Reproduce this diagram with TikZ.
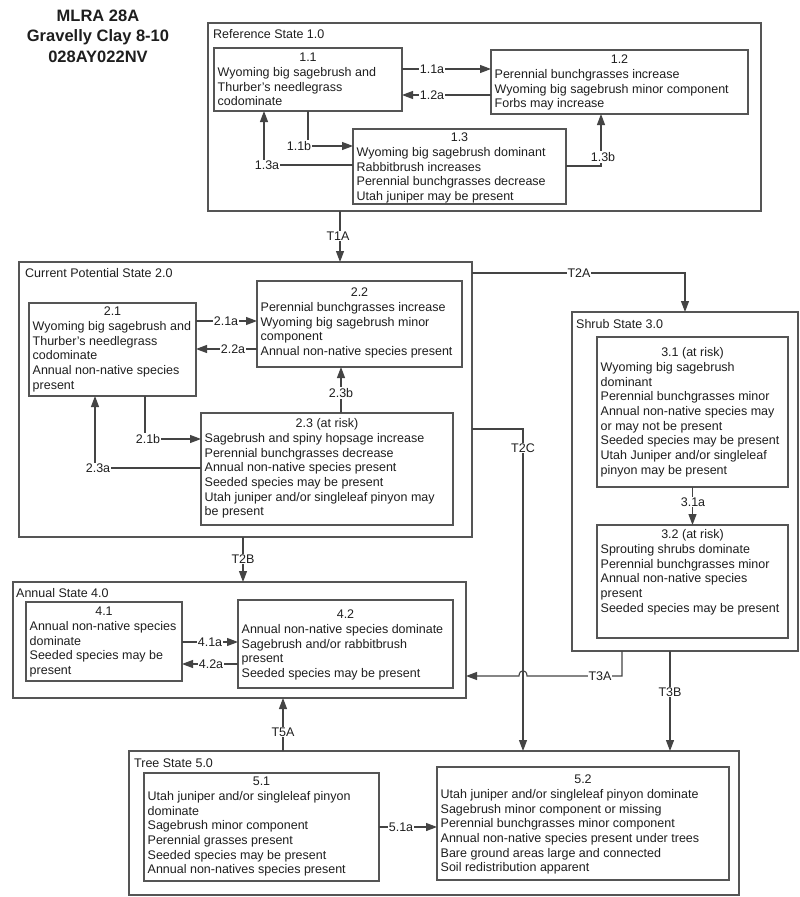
\documentclass[tikz,border=0pt]{standalone}
\usepackage{fontspec}
\setmainfont{Liberation Sans}
\usetikzlibrary{arrows.meta,calc}
\definecolor{boxcol}{HTML}{555555}
\definecolor{linecol}{HTML}{444444}
\definecolor{txtcol}{HTML}{1E1E1E}
% #1 name, #2 top-left, #3 width, #4 height, #5 title offset, #6 title, #7 body
\newcommand\ebox[7]{%
  \node[box, minimum width=#3, minimum height=#4, anchor=north west] (#1) at (#2) {};
  \node[txt, anchor=north] (#1t) at ($(#1.north)+(0,#5)$) {\strut #6};
  \node[txt, anchor=north west, align=left] (#1b) at ($(#1.north west)+(3.5,#5+14.7)$) {\strut #7};
}
\begin{document}
\begin{tikzpicture}[x=1pt,y=-1pt,
  box/.style={draw=boxcol, line width=1.2pt, inner sep=0pt, outer sep=0pt},
  txt/.style={inner sep=0pt, font=\fontsize{12.5}{14.7}\selectfont, text=txtcol},
  lab/.style={fill=white, inner sep=1pt, font=\fontsize{12.5}{14.7}\selectfont, text=txtcol},
  stlab/.style={anchor=base west, inner sep=0pt, font=\fontsize{12.5}{14.7}\selectfont, text=txtcol},
  arr/.style={draw=linecol, line width=1.1pt, -{Triangle[length=11pt,width=8pt]}}]
\fill[white] (0,0) rectangle (800,897);
\useasboundingbox (0,0) rectangle (800,897);

% title
\node[align=center, font=\fontsize{16.5}{20.5}\bfseries\selectfont, text=txtcol] (title) at (98,36)
  {MLRA 28A\\Gravelly Clay 8-10\\028AY022NV};

% state boxes
\node[box, minimum width=553, minimum height=188, anchor=north west] (ref) at (208,23) {};
\node[stlab] (reft) at ($(ref.north west)+(5,15)$) {Reference State 1.0};
\node[box, minimum width=453, minimum height=275, anchor=north west] (cps) at (19,262) {};
\node[stlab] (cpst) at ($(cps.north west)+(6,15)$) {Current Potential State 2.0};
\node[box, minimum width=226, minimum height=339, anchor=north west] (shrub) at (572,312) {};
\node[stlab] (shrubt) at ($(shrub.north west)+(4,16)$) {Shrub State 3.0};
\node[box, minimum width=453, minimum height=116, anchor=north west] (annual) at (13,582) {};
\node[stlab] (annualt) at ($(annual.north west)+(3,15)$) {Annual State 4.0};
\node[box, minimum width=610, minimum height=144, anchor=north west] (tree) at (129,751) {};
\node[stlab] (treet) at ($(tree.north west)+(5,16)$) {Tree State 5.0};

% community phase boxes
\ebox{b11}{214,48}{188}{63}{3.2}{1.1}{Wyoming big sagebrush and\\Thurber's needlegrass\\codominate}
\ebox{b12}{491,50}{257}{64}{3.2}{1.2}{Perennial bunchgrasses increase\\Wyoming big sagebrush minor component\\Forbs may increase}
\ebox{b13}{353,129}{213}{75}{2.2}{1.3}{Wyoming big sagebrush dominant\\Rabbitbrush increases\\Perennial bunchgrasses decrease\\Utah juniper may be present}
\ebox{b21}{29,303}{167}{93}{2.2}{2.1}{Wyoming big sagebrush and\\Thurber's needlegrass\\codominate\\Annual non-native species\\present}
\ebox{b22}{257,281}{205}{86}{5.2}{2.2}{Perennial bunchgrasses increase\\Wyoming big sagebrush minor\\component\\Annual non-native species present}
\ebox{b23}{201,413}{252}{112}{4.2}{2.3 (at risk)}{Sagebrush and spiny hopsage increase\\Perennial bunchgrasses decrease\\Annual non-native species present\\Seeded species may be present\\Utah juniper and/or singleleaf pinyon may\\be present}
\ebox{b31}{597,337}{191}{150}{9.2}{3.1 (at risk)}{Wyoming big sagebrush\\dominant\\Perennial bunchgrasses minor\\Annual non-native species may\\or may not be present\\Seeded species may be present\\Utah Juniper and/or singleleaf\\pinyon may be present}
\ebox{b32}{597,525}{191}{113}{3.2}{3.2 (at risk)}{Sprouting shrubs dominate\\Perennial bunchgrasses minor\\Annual non-native species\\present\\Seeded species may be present}
\ebox{b41}{26,602}{156}{79}{3.2}{4.1}{Annual non-native species\\dominate\\Seeded species may be\\present}
\ebox{b42}{238,600}{215}{88}{8.2}{4.2}{Annual non-native species dominate\\Sagebrush and/or rabbitbrush\\present\\Seeded species may be present}
\ebox{b51}{144,773}{235}{108}{2.2}{5.1}{Utah juniper and/or singleleaf pinyon\\dominate\\Sagebrush minor component\\Perennial grasses present\\Seeded species may be present\\Annual non-natives species present}
\ebox{b52}{437,767}{292}{113}{6.2}{5.2}{Utah juniper and/or singleleaf pinyon dominate\\Sagebrush minor component or missing\\Perennial bunchgrasses minor component\\Annual non-native species present under trees\\Bare ground areas large and connected\\Soil redistribution apparent}

% connectors, state 1
\draw[arr] (b11.east |- 0,69) -- (b12.west |- 0,69);
\draw[arr] (b12.west |- 0,95) -- (b11.east |- 0,95);
\draw[arr] (308,0 |- b11.south) |- (b13.west |- 0,146);
\draw[arr] (b13.west |- 0,165) -| (264,0 |- b11.south);
\draw[arr] (b13.east |- 0,166) -| (601,0 |- b12.south);
\draw[arr] (340,0 |- ref.south) -- (340,0 |- cps.north);
% state 2
\draw[arr] (b21.east |- 0,321) -- (b22.west |- 0,321);
\draw[arr] (b22.west |- 0,349) -- (b21.east |- 0,349);
\draw[arr] (145,0 |- b21.south) |- (b23.west |- 0,439);
\draw[arr] (b23.west |- 0,468) -| (95,0 |- b21.south);
\draw[arr] (341,0 |- b23.north) -- (341,0 |- b22.south);
\draw[arr] (cps.east |- 0,273) -| (shrub.north);
\draw[arr] (cps.east |- 0,429) -| (523,0 |- tree.north);
\draw[arr] (243,0 |- cps.south) -- (243,0 |- annual.north);
% state 3
\draw[arr] (b31.south) -- (b32.north);
\draw[arr] (622,0 |- shrub.south) |- (527,676) .. controls (527,669) and (519,669) .. (519,676) -- (annual.east |- 0,676);
\draw[arr] (670,0 |- shrub.south) -- (670,0 |- tree.north);
% state 4
\draw[arr] (b41.east |- 0,642) -- (b42.west |- 0,642);
\draw[arr] (b42.west |- 0,664) -- (b41.east |- 0,664);
% state 5
\draw[arr] (283,0 |- tree.north) -- (283,0 |- annual.south);
\draw[arr] (b51.east |- 0,827) -- (b52.west |- 0,827);

% labels
\node[lab] (l11a) at (432,69) {1.1a};
\node[lab] (l12a) at (432,95) {1.2a};
\node[lab] (l11b) at (299,146) {1.1b};
\node[lab] (l13a) at (267,165) {1.3a};
\node[lab] (l13b) at (603,157) {1.3b};
\node[lab] (lT1A) at (338,236) {T1A};
\node[lab] (l21a) at (226,321) {2.1a};
\node[lab] (l22a) at (233,349) {2.2a};
\node[lab] (l21b) at (148,439) {2.1b};
\node[lab] (l23a) at (98,468) {2.3a};
\node[lab] (l23b) at (341,393) {2.3b};
\node[lab] (lT2A) at (579,273) {T2A};
\node[lab] (lT2C) at (523,448) {T2C};
\node[lab] (lT2B) at (243,559) {T2B};
\node[lab] (l31a) at (693,502) {3.1a};
\node[lab] (lT3A) at (600,676) {T3A};
\node[lab] (lT3B) at (670,692) {T3B};
\node[lab] (l41a) at (210,642) {4.1a};
\node[lab] (l42a) at (211,664) {4.2a};
\node[lab] (lT5A) at (283,732) {T5A};
\node[lab] (l51a) at (401,827) {5.1a};
\end{tikzpicture}
\end{document}
